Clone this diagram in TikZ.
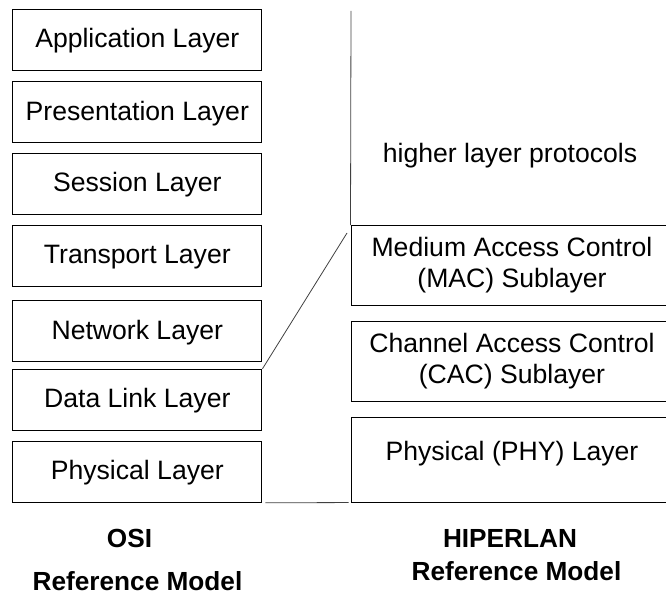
\documentclass[tikz,border=0pt]{standalone}
\usepackage{fontspec}
\setmainfont{Liberation Sans}
\begin{document}
\begin{tikzpicture}[x=1pt,y=-1pt,
  every node/.style={font=\fontsize{26.6}{31}\selectfont},
  osibox/.style={draw, line width=1pt, minimum width=249.3pt, minimum height=61pt,
    inner sep=0pt, text height=19pt, text depth=3pt},
  hlbox/.style={draw, line width=1pt, minimum width=322pt, inner sep=0pt, align=center},
  link/.style={line width=0.8pt, black!75},
  caption/.style={font=\fontsize{26.2}{31}\selectfont\bfseries, anchor=base}]
\useasboundingbox (0,0) rectangle (666,596);
\clip (0,0) rectangle (666,596);

% OSI stack
\node[osibox] (app)   at (137.3,39.8)  {Application Layer};
\node[osibox] (pres)  at (137.3,112.2) {Presentation Layer};
\node[osibox] (sess)  at (137.3,183.8) {Session Layer};
\node[osibox] (trans) at (137.3,255.7) {Transport Layer};
\node[osibox] (net)   at (137.3,331.2) {Network Layer};
\node[osibox] (dl)    at (137.3,399.8) {Data Link Layer};
\node[osibox] (phys)  at (137.3,471.8) {Physical Layer};

% HIPERLAN stack
\node[hlbox, minimum height=79.6pt] (mac) at (512,265.5)
  {Medium Access Control\\(MAC) Sublayer};
\node[hlbox, minimum height=80pt] (cac) at (512,361.3)
  {Channel Access Control\\(CAC) Sublayer};
\node[hlbox, minimum height=84.7pt, text depth=17.5pt] (phy) at (512,459.7)
  {Physical (PHY) Layer};

\coordinate (top) at (351,11);
\draw[link] (top) -- (mac.north west);
\node[anchor=base] (hl) at (510,163) {higher layer protocols};

% correspondence lines
\coordinate (fan) at (347,233);
\draw[link] (dl.north east) -- (fan);
\draw[link, shorten <=3pt, shorten >=2pt] (phys.south east) -- (phy.south west);

% captions
\node[caption] (osi)    at (129.5,547) {OSI};
\node[caption] (osiref) at (137.5,590) {Reference Model};
\node[caption] (hip)    at (510,547)   {HIPERLAN};
\node[caption] (hipref) at (516.5,580) {Reference Model};
\end{tikzpicture}
\end{document}
